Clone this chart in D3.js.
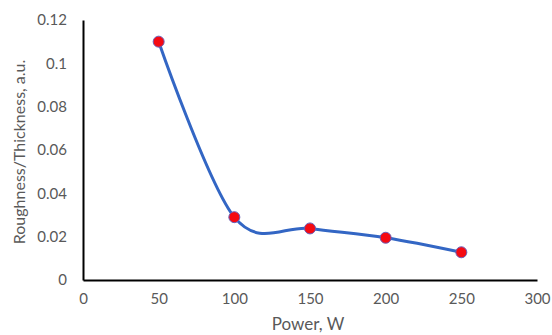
<!DOCTYPE html>
<html>
<head>
<meta charset="utf-8">
<script src="https://cdn.jsdelivr.net/npm/d3@7"></script>
<style>
  html, body { margin: 0; padding: 0; background: #fff; }
  svg text { font-family: Lato, "Open Sans", sans-serif; fill: #595959; }
</style>
</head>
<body>
<svg id="chart" width="552" height="335"></svg>
<script>
// Power (W) vs roughness/thickness ratio
const power = [50, 100, 150, 200, 250];
const ratio = [0.110, 0.029, 0.0238, 0.0195, 0.0128];
const xTicks = [0, 50, 100, 150, 200, 250, 300];
const yTicks = [0, 0.02, 0.04, 0.06, 0.08, 0.1, 0.12];

const svg = d3.select("#chart");
const margin = { left: 83, right: 15, top: 20, bottom: 55 };
const W = 552, H = 335;

const x = d3.scaleLinear().domain([0, 300]).range([margin.left, W - margin.right]);
const y = d3.scaleLinear().domain([0, 0.12]).range([H - margin.bottom, margin.top]);

// axes
const xAxis = svg.append("g")
  .attr("transform", `translate(0,${y(0)})`)
  .call(d3.axisBottom(x).tickValues(xTicks).tickSize(0).tickPadding(13).tickFormat(d3.format("d")));
const yAxis = svg.append("g")
  .attr("transform", `translate(${x(0)},0)`)
  .call(d3.axisLeft(y).tickValues(yTicks).tickSize(0).tickPadding(16).tickFormat(d => d === 0 ? "0" : String(+d.toFixed(2))));
[xAxis, yAxis].forEach(g => {
  g.select(".domain").attr("stroke", "#000").attr("stroke-width", 2);
  g.selectAll("text").attr("font-size", 15).style("fill", "#595959");
});

// smoothed series line
const line = d3.line()
  .x((d, i) => x(power[i]))
  .y((d, i) => y(ratio[i]))
  .curve(d3.curveCatmullRom.alpha(0));
svg.append("path")
  .datum(ratio)
  .attr("d", line)
  .attr("fill", "none")
  .attr("stroke", "#3366c4")
  .attr("stroke-width", 3);

// markers
svg.append("g").selectAll("circle")
  .data(ratio)
  .join("circle")
  .attr("cx", (d, i) => x(power[i]))
  .attr("cy", d => y(d))
  .attr("r", 5.5)
  .attr("fill", "#f50a12")
  .attr("stroke", "#6a5fb8")
  .attr("stroke-width", 1);

// axis titles
svg.append("text")
  .attr("x", 308).attr("y", 330)
  .attr("text-anchor", "middle")
  .attr("font-size", 17)
  .text("Power, W");
svg.append("text")
  .attr("transform", `translate(25,152) rotate(-90)`)
  .attr("text-anchor", "middle")
  .attr("font-size", 16)
  .text("Roughness/Thickness, a.u.");
</script>
</body>
</html>
